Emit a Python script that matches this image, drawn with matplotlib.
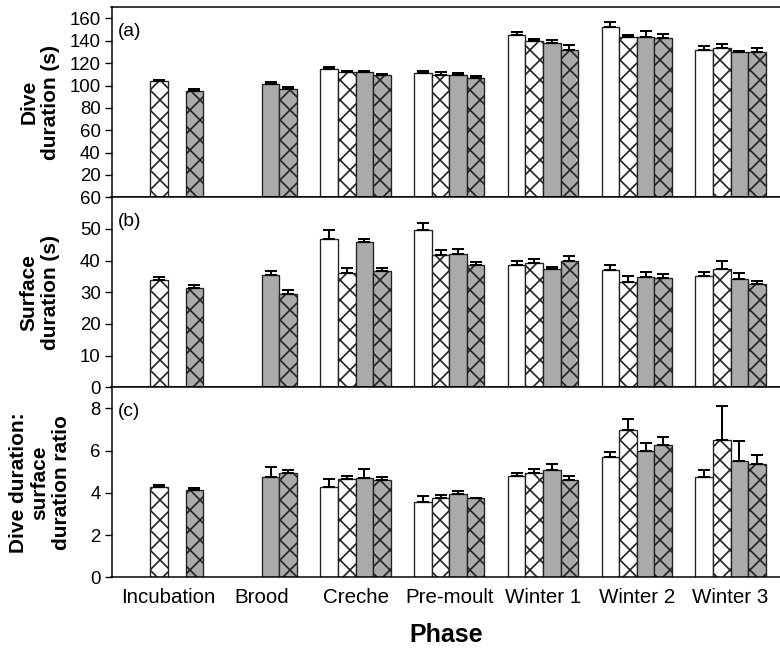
import matplotlib.pyplot as plt
import numpy as np

nan = np.nan

# phases on the x axis
phases = ['Incubation', 'Brood', 'Creche', 'Pre-moult', 'Winter 1', 'Winter 2', 'Winter 3']

# (a) dive duration (s): mean and upper error for the four series
dive_white = [nan, nan, 115, 111, 145, 152, 132]
dive_white_err = [nan, nan, 2.0, 2.3, 2.8, 4.5, 3.0]
dive_white_x = [104, nan, 112, 109.5, 139.5, 143, 133.5]
dive_white_x_err = [1.0, nan, 1.0, 2.5, 1.8, 2.0, 3.5]
dive_grey = [nan, 101, 112, 109, 138.5, 143, 129.8]
dive_grey_err = [nan, 2.3, 1.3, 2.4, 2.0, 6.0, 1.2]
dive_grey_x = [95.5, 96.5, 109.5, 107, 131.5, 142.5, 130.2]
dive_grey_x_err = [1.2, 2.5, 1.0, 1.8, 4.5, 3.8, 3.5]

# (b) surface duration (s)
surf_white = [nan, nan, 46.7, 49.7, 38.5, 37.0, 35.2]
surf_white_err = [nan, nan, 3.0, 2.2, 1.5, 1.6, 1.1]
surf_white_x = [33.8, nan, 36.0, 41.8, 39.1, 33.4, 37.3]
surf_white_x_err = [1.0, nan, 1.6, 1.6, 1.4, 1.6, 2.7]
surf_grey = [nan, 35.4, 45.9, 42.2, 37.3, 34.8, 34.3]
surf_grey_err = [nan, 1.3, 0.9, 1.5, 0.6, 1.6, 1.7]
surf_grey_x = [31.4, 29.5, 36.7, 38.6, 39.8, 34.4, 32.5]
surf_grey_x_err = [0.9, 1.3, 1.1, 1.1, 1.7, 1.4, 1.1]

# (c) dive duration : surface duration ratio
ratio_white = [nan, nan, 4.29, 3.58, 4.80, 5.68, 4.76]
ratio_white_err = [nan, nan, 0.35, 0.28, 0.12, 0.25, 0.32]
ratio_white_x = [4.26, nan, 4.65, 3.77, 4.95, 6.97, 6.48]
ratio_white_x_err = [0.11, nan, 0.15, 0.11, 0.19, 0.52, 1.64]
ratio_grey = [nan, 4.76, 4.72, 3.93, 5.06, 5.98, 5.50]
ratio_grey_err = [nan, 0.45, 0.39, 0.17, 0.29, 0.39, 0.95]
ratio_grey_x = [4.13, 4.92, 4.61, 3.74, 4.61, 6.25, 5.39]
ratio_grey_x_err = [0.08, 0.16, 0.12, 0.02, 0.20, 0.39, 0.41]

plt.rcParams['font.family'] = ['Liberation Sans', 'DejaVu Sans']
plt.rcParams['hatch.linewidth'] = 1.0

fig = plt.figure(figsize=(6.5, 650 / 120), dpi=120)
left, right = 111.5 / 780, 1.0
top, bottom = 1 - 7.3 / 650, 1 - 577.3 / 650
h = (top - bottom) / 3
axes = [fig.add_axes([left, bottom + (2 - k) * h, right - left, h]) for k in range(3)]

styles = [('white', ''), ('white', 'xx'), ('#aaaaaa', ''), ('#aaaaaa', 'xx')]
w = 0.187
x = np.arange(len(phases))

panels = [
    ([dive_white, dive_white_x, dive_grey, dive_grey_x],
     [dive_white_err, dive_white_x_err, dive_grey_err, dive_grey_x_err],
     'Dive\nduration (s)', (0, 170), np.arange(20, 161, 20), '(a)'),
    ([surf_white, surf_white_x, surf_grey, surf_grey_x],
     [surf_white_err, surf_white_x_err, surf_grey_err, surf_grey_x_err],
     'Surface\nduration (s)', (0, 60), np.arange(0, 61, 10), '(b)'),
    ([ratio_white, ratio_white_x, ratio_grey, ratio_grey_x],
     [ratio_white_err, ratio_white_x_err, ratio_grey_err, ratio_grey_x_err],
     'Dive duration:\nsurface\nduration ratio', (0, 9), np.arange(0, 9, 2), '(c)'),
]

for ax, (means, errs, ylab, ylim, yticks, tag) in zip(axes, panels):
    for k, (m, e) in enumerate(zip(means, errs)):
        pos = x + (k - 1.5) * w
        m = np.array(m, dtype=float)
        e = np.array(e, dtype=float)
        fc, hatch = styles[k]
        ax.bar(pos, m, width=w, color=fc, hatch=hatch, edgecolor='#222222',
               linewidth=0.8, zorder=2)
        ax.errorbar(pos, m, yerr=[np.zeros_like(e), e], fmt='none', ecolor='black',
                    elinewidth=1.2, capsize=3.6, capthick=1.2, zorder=3)
    ax.set_xlim(-0.603, 6.528)
    ax.set_ylim(*ylim)
    ax.set_yticks(yticks)
    ax.spines['right'].set_visible(False)
    for s in ['left', 'top', 'bottom']:
        ax.spines[s].set_linewidth(0.9)
    ax.tick_params(axis='y', length=4.2, width=0.8, labelsize=11.2, pad=2.2)
    ax.set_ylabel(ylab, fontsize=12.5, fontweight='bold', va='center',
                  linespacing=1.15)
    ax.yaxis.set_label_coords(-0.107, 0.5)
    ax.text(0.010, 0.87, tag, transform=ax.transAxes, fontsize=11.5,
            ha='left', va='center')
    ax.set_xticks(x)
    if ax is axes[-1]:
        ax.set_xticklabels(phases)
        ax.tick_params(axis='x', length=0, labelsize=12.3, pad=6.5)
    else:
        ax.tick_params(axis='x', length=0, labelbottom=False)

axes[-1].set_xlabel('Phase', fontsize=15, fontweight='bold', va='center')
axes[-1].xaxis.set_label_coords(0.5, -0.304)

plt.savefig('out.png', dpi=120)
